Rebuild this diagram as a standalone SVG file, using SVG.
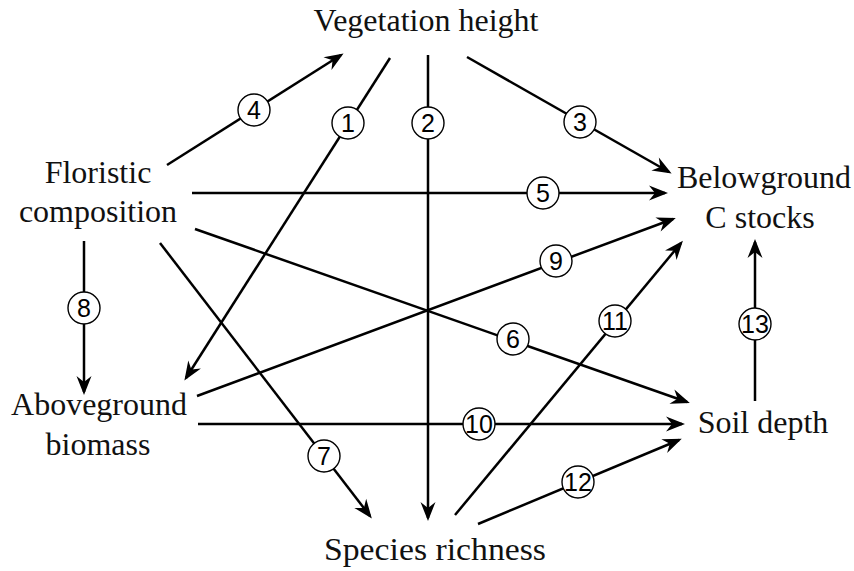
<svg xmlns="http://www.w3.org/2000/svg" width="854" height="571" viewBox="0 0 854 571">
<style>
.lbl{font-family:"Liberation Serif","Times New Roman",serif;font-size:32px;fill:#111;text-anchor:middle}
.edge{stroke:#000;stroke-width:2.5;fill:none;marker-end:url(#ah)}
.num circle{fill:#fff;stroke:#000;stroke-width:1.4}
.num text{font-family:"Liberation Sans",Arial,sans-serif;font-size:25px;fill:#000;text-anchor:middle}
</style>
<defs>
<marker id="ah" markerUnits="userSpaceOnUse" markerWidth="24" markerHeight="20" viewBox="-18 -10 24 20" refX="0" refY="0" orient="auto" overflow="visible">
<path d="M3,0 L-16,-7.5 L-10,0 L-16,7.5 z" fill="#000"/>
</marker>
</defs>
<rect width="854" height="571" fill="#fff"/>
<g id="connectors">
<line class="edge" x1="390" y1="58" x2="186" y2="378"/>
<line class="edge" x1="428" y1="55" x2="428" y2="518"/>
<line class="edge" x1="467" y1="57" x2="669" y2="172"/>
<line class="edge" x1="167" y1="165" x2="341" y2="55"/>
<line class="edge" x1="192" y1="193" x2="665" y2="193"/>
<line class="edge" x1="195" y1="229" x2="687" y2="402"/>
<line class="edge" x1="160" y1="243" x2="370" y2="516"/>
<line class="edge" x1="84" y1="241" x2="84" y2="392"/>
<line class="edge" x1="197" y1="396" x2="673" y2="219"/>
<line class="edge" x1="198" y1="424" x2="682" y2="424"/>
<line class="edge" x1="455" y1="515" x2="681" y2="243"/>
<line class="edge" x1="478" y1="524" x2="679" y2="440"/>
<line class="edge" x1="755" y1="401" x2="755" y2="242"/>
</g>
<g id="labels">
<g class="num" id="n1"><circle cx="348" cy="123" r="16"/><text x="348" y="132">1</text></g>
<g class="num" id="n2"><circle cx="428" cy="123" r="16"/><text x="428" y="132">2</text></g>
<g class="num" id="n3"><circle cx="580" cy="122" r="16"/><text x="580" y="131">3</text></g>
<g class="num" id="n4"><circle cx="254" cy="110" r="16"/><text x="254" y="119">4</text></g>
<g class="num" id="n5"><circle cx="543" cy="193" r="16"/><text x="543" y="202">5</text></g>
<g class="num" id="n6"><circle cx="513" cy="339" r="16"/><text x="513" y="348">6</text></g>
<g class="num" id="n7"><circle cx="324" cy="456" r="16"/><text x="324" y="465">7</text></g>
<g class="num" id="n8"><circle cx="84" cy="308" r="16"/><text x="84" y="317">8</text></g>
<g class="num" id="n9"><circle cx="556" cy="261" r="16"/><text x="556" y="270">9</text></g>
<g class="num" id="n10"><circle cx="479" cy="424" r="16"/><text x="479" y="433">10</text></g>
<g class="num" id="n11"><circle cx="615" cy="321" r="16"/><text x="615" y="330">11</text></g>
<g class="num" id="n12"><circle cx="578" cy="482" r="16"/><text x="578" y="491">12</text></g>
<g class="num" id="n13"><circle cx="755" cy="324" r="16"/><text x="755" y="333">13</text></g>
</g>
<g id="vegetation-height"><text class="lbl" x="426" y="31">Vegetation height</text></g>
<g id="floristic-composition"><text class="lbl" x="98" y="183">Floristic</text><text class="lbl" x="98" y="222">composition</text></g>
<g id="aboveground-biomass"><text class="lbl" x="99" y="415">Aboveground</text><text class="lbl" x="98" y="455">biomass</text></g>
<g id="belowground-c-stocks"><text class="lbl" x="764" y="188">Belowground</text><text class="lbl" x="760" y="228">C stocks</text></g>
<g id="soil-depth"><text class="lbl" x="763" y="433">Soil depth</text></g>
<g id="species-richness"><text class="lbl" x="435" y="560" textLength="222" lengthAdjust="spacingAndGlyphs">Species richness</text></g>
</svg>
